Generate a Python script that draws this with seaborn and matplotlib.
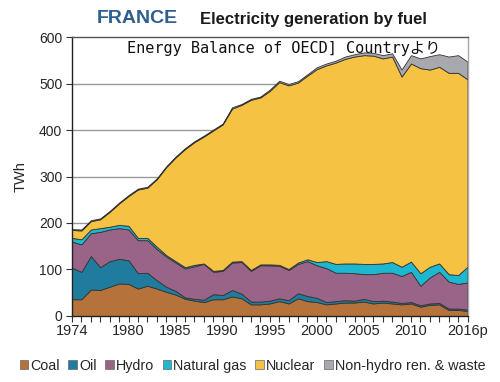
import numpy as np
import matplotlib
matplotlib.use("Agg")
import matplotlib.pyplot as plt
from matplotlib.patches import Patch
import seaborn as sns

years = list(range(1974, 2017))
coal = [36, 36, 57, 56, 63, 70, 69, 59, 65, 59, 52, 46, 37, 33, 30, 36, 36, 42, 38, 25, 25,
        27, 32, 27, 38, 32, 30, 25, 27, 29, 29, 31, 27, 29, 27, 25, 27, 20, 24, 25, 13, 13, 11]
oil = [68, 59, 72, 49, 55, 53, 51, 33, 28, 18, 11, 8, 3, 4, 5, 11, 9, 14, 10, 6, 6,
       6, 6, 7, 11, 11, 9, 5, 5, 5, 4, 6, 5, 4, 4, 3, 3, 3, 3, 3, 3, 3, 3]
hydro = [56, 59, 49, 76, 68, 66, 66, 71, 70, 67, 65, 61, 62, 70, 77, 48, 52, 59, 68, 66, 78,
         76, 70, 65, 63, 75, 70, 73, 61, 59, 59, 53, 58, 60, 62, 58, 65, 42, 56, 67, 58, 53, 58]
gas = [8, 11, 8, 8, 6, 7, 8, 5, 5, 5, 3, 3, 3, 3, 1, 2, 2, 2, 2, 2, 2,
       2, 2, 2, 3, 4, 7, 15, 19, 20, 21, 22, 22, 20, 23, 20, 22, 27, 23, 18, 16, 19, 34]
nuclear = [17, 19, 18, 19, 32, 46, 64, 104, 108, 145, 189, 223, 254, 264, 273, 302, 313, 329, 336, 366, 359,
           373, 393, 395, 387, 395, 415, 421, 433, 440, 445, 449, 448, 441, 442, 409, 426, 441, 424, 423, 433, 435, 403]
nonhydro = [2, 2, 2, 2, 2, 2, 2, 2, 2, 2, 2, 2, 2, 2, 2, 2, 2, 3, 2, 2, 2,
            3, 3, 3, 3, 3, 4, 4, 4, 5, 5, 6, 6, 7, 7, 15, 18, 21, 29, 27, 35, 38, 38]

labels = ["Coal", "Oil", "Hydro", "Natural gas", "Nuclear", "Non-hydro ren. & waste"]
colors = ["#B5723B", "#1F7C9E", "#9A6489", "#1DB8CF", "#F5C243", "#A8A9AE"]
xtick_vals = [1974, 1980, 1985, 1990, 1995, 2000, 2005, 2010, 2016]
xtick_labels = ["1974", "1980", "1985", "1990", "1995", "2000", "2005", "2010", "2016p"]

sns.set_theme(style="white")
plt.rcParams["font.family"] = ["Liberation Sans", "DejaVu Sans"]

fig = plt.figure(figsize=(5.0, 3.82), dpi=100)
ax = fig.add_axes([0.144, 0.1728, 0.791, 0.7303])

ax.stackplot(years, coal, oil, hydro, gas, nuclear, nonhydro, colors=colors,
             edgecolor="#333333", linewidth=0.6, zorder=2)

ax.set_xlim(1974, 2016)
ax.set_ylim(0, 600)
ax.set_yticks(range(0, 601, 100))
ax.set_xticks(xtick_vals)
ax.set_xticklabels(xtick_labels)
ax.set_xticks(years, minor=True)
ax.tick_params(axis="x", which="both", direction="out", length=4, width=0.8, color="#333333",
               bottom=True, labelsize=10.5, pad=2)
ax.tick_params(axis="y", direction="out", length=4, width=0.8, color="#333333", left=True,
               labelsize=10, pad=3)
for yv in range(100, 600, 100):
    ax.axhline(yv, color="#999999", linewidth=1.0, zorder=1)
ax.grid(False)
for s in ["left", "bottom"]:
    ax.spines[s].set_color("#222222")
    ax.spines[s].set_linewidth(1.0)
ax.spines["top"].set_color("#555555")
ax.spines["top"].set_linewidth(1.0)
ax.spines["right"].set_color("#AAAAAA")
ax.spines["right"].set_linewidth(1.0)
ax.set_ylabel("TWh", fontsize=10.5, labelpad=8)

fig.text(0.194, 0.952, "FRANCE", fontsize=14, fontweight="bold", color="#2E5F8F",
         ha="left", va="center")
fig.text(0.400, 0.950, "Electricity generation by fuel", fontsize=12, fontweight="bold",
         color="#1A1A1A", ha="left", va="center")
ax.text(0.536, 0.985, "Energy Balance of OECD] Countryより", transform=ax.transAxes,
        fontsize=11, family=["DejaVu Sans Mono", "Noto Sans CJK JP"], ha="center", va="top",
        color="#111111", zorder=5)

handles = [Patch(facecolor=c, edgecolor="#666666", linewidth=0.5) for c in colors]
fig.legend(handles, labels, loc="center", bbox_to_anchor=(0.505, 0.042), ncol=6, frameon=False,
           fontsize=10.3, handlelength=0.6, handleheight=0.6, handletextpad=0.15,
           columnspacing=0.6, borderaxespad=0)

fig.savefig("out.png", dpi=100)
